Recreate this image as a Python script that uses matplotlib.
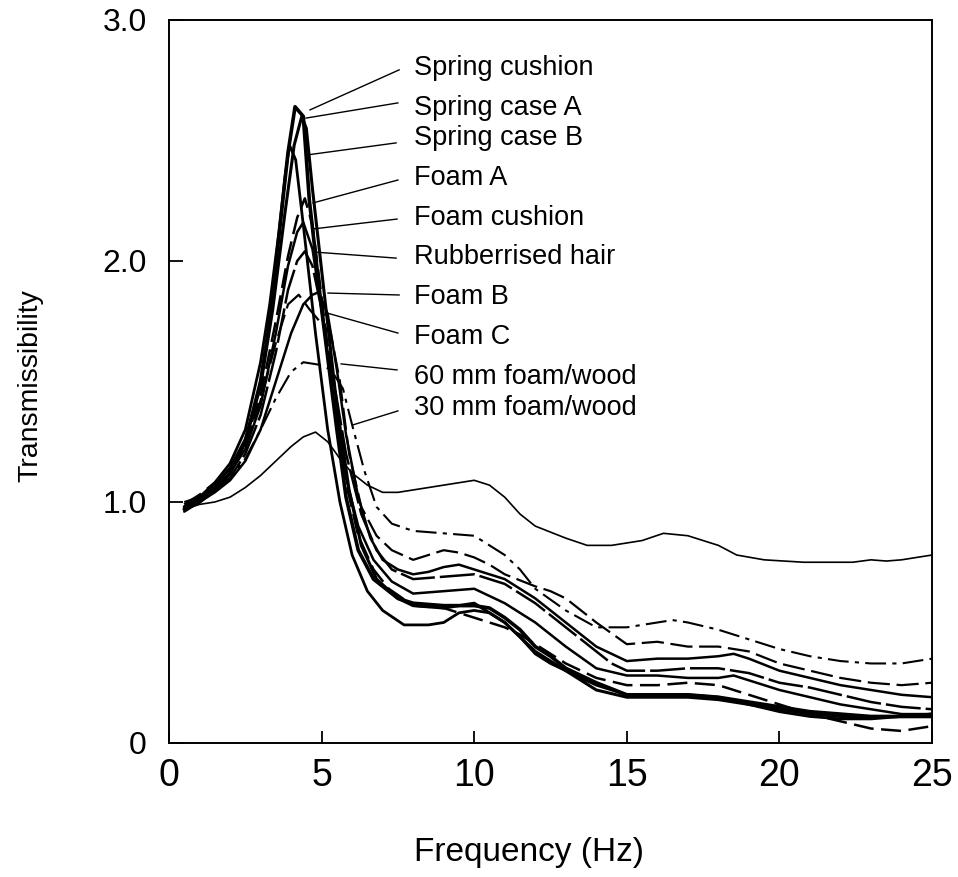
import matplotlib
matplotlib.use("Agg")
import matplotlib.pyplot as plt

# frequency (Hz) / transmissibility
sc_x = [0.5,1,1.5,2,2.5,3,3.3,3.6,3.9,4.13,4.4,4.6,5.0,5.5,5.8,6.2,6.7,7.5,8,9,10,10.5,11,11.5,12,12.5,13,14,15,16,17,18,19,20,21,22,23,24,25]
sc_y = [0.97,1.0,1.05,1.12,1.25,1.5,1.75,2.1,2.45,2.64,2.6,2.25,1.8,1.3,1.02,0.8,0.68,0.6,0.58,0.57,0.57,0.56,0.52,0.47,0.4,0.36,0.31,0.25,0.2,0.2,0.2,0.19,0.17,0.15,0.13,0.12,0.11,0.11,0.11]

sca_x = [0.5,1,1.5,2,2.5,3,3.4,3.8,4.1,4.35,4.5,4.7,5.1,5.5,5.9,6.3,6.8,7.5,8,9,10,11,12,13,14,15,16,17,18,19,20,21,22,23,24,25]
sca_y = [0.98,1.02,1.07,1.14,1.26,1.48,1.8,2.2,2.48,2.6,2.55,2.3,1.85,1.4,1.05,0.82,0.68,0.6,0.57,0.56,0.58,0.5,0.38,0.3,0.22,0.19,0.19,0.19,0.18,0.16,0.14,0.12,0.11,0.11,0.11,0.12]

scb_x = [0.5,1,1.5,2,2.5,3,3.3,3.6,3.8,3.95,4.15,4.4,4.8,5.2,5.6,6,6.5,7,7.7,8.5,9,9.5,10,10.5,11,11.5,12,12.5,13,14,15,16,17,18,19,20,21,22,23,24,25]
scb_y = [0.97,1.02,1.08,1.16,1.3,1.58,1.82,2.12,2.35,2.48,2.42,2.15,1.7,1.3,1.0,0.78,0.63,0.55,0.49,0.49,0.5,0.54,0.55,0.54,0.5,0.44,0.37,0.33,0.3,0.24,0.2,0.2,0.2,0.19,0.16,0.13,0.11,0.1,0.1,0.11,0.12]

fa_x = [0.5,1,1.5,2,2.5,3,3.5,3.9,4.2,4.45,4.7,5.0,5.4,5.8,6.2,6.7,7.2,8,9,10,11,11.5,12.5,13,14,15,16,17,18,19,20,21,22,23,24,25]
fa_y = [0.99,1.03,1.08,1.14,1.25,1.44,1.75,2.02,2.18,2.26,2.15,1.85,1.42,1.08,0.86,0.72,0.64,0.57,0.56,0.52,0.48,0.45,0.37,0.33,0.27,0.24,0.24,0.25,0.24,0.2,0.16,0.12,0.09,0.06,0.05,0.07]

fcu_x = [0.5,1,1.5,2,2.5,3,3.5,3.9,4.2,4.4,4.7,5.0,5.4,5.8,6.2,6.7,7.3,8,9,10,11,12,13,14,15,16,17,18,18.5,20,21,22,23,24,25]
fcu_y = [0.98,1.02,1.06,1.12,1.22,1.4,1.7,1.98,2.12,2.16,2.05,1.8,1.42,1.1,0.9,0.76,0.67,0.62,0.63,0.64,0.58,0.5,0.4,0.31,0.28,0.28,0.27,0.27,0.28,0.22,0.19,0.16,0.14,0.12,0.12]

rh_x = [0.5,1,1.5,2,2.5,3,3.5,3.9,4.2,4.45,4.7,5.0,5.4,5.8,6.3,6.8,7.3,8,9,10,11,11.5,12,13,14,14.5,15,16,17,18,19,20,21,22,23,24,25]
rh_y = [0.97,1.01,1.05,1.1,1.2,1.36,1.62,1.88,2.0,2.04,1.98,1.8,1.5,1.2,0.95,0.8,0.72,0.68,0.69,0.7,0.66,0.62,0.58,0.48,0.38,0.33,0.3,0.3,0.31,0.31,0.29,0.25,0.23,0.2,0.17,0.15,0.14]

fb_x = [0.5,1,1.5,2,2.5,3,3.5,4,4.4,4.7,4.9,5.2,5.5,5.8,6.2,6.6,7.0,7.5,8,8.5,9,9.5,10,10.5,11,12,13,13.5,14,15,16,17,18,18.5,19,20,21,22,23,24,25]
fb_y = [0.96,1.0,1.04,1.09,1.17,1.3,1.5,1.7,1.82,1.86,1.87,1.78,1.55,1.28,1.02,0.85,0.76,0.72,0.7,0.71,0.73,0.74,0.72,0.7,0.68,0.6,0.5,0.45,0.4,0.34,0.35,0.35,0.36,0.37,0.35,0.3,0.27,0.24,0.22,0.2,0.19]

fc_x = [0.5,1,1.5,2,2.5,3,3.5,3.9,4.25,4.6,5.0,5.3,5.6,5.9,6.3,6.8,7.3,8,8.5,9,9.5,10,10.5,11,12,12.5,13,14,15,16,17,18,19,20,21,22,23,24,25]
fc_y = [0.98,1.02,1.07,1.13,1.24,1.42,1.66,1.82,1.86,1.8,1.74,1.7,1.5,1.2,0.98,0.86,0.8,0.76,0.78,0.8,0.79,0.77,0.74,0.7,0.65,0.63,0.6,0.5,0.41,0.42,0.4,0.4,0.38,0.33,0.3,0.27,0.25,0.24,0.25]

f60_x = [0.5,1,1.5,2,2.5,3,3.5,4,4.4,4.9,5.3,5.7,6.0,6.4,6.8,7.3,8,9,10,10.5,11,11.5,12,13,14,15,16,16.5,17,18,19,20,21,22,23,24,25]
f60_y = [1.0,1.02,1.06,1.1,1.18,1.3,1.43,1.54,1.58,1.57,1.55,1.47,1.32,1.13,0.98,0.91,0.88,0.87,0.86,0.82,0.78,0.72,0.64,0.55,0.48,0.48,0.5,0.51,0.5,0.47,0.43,0.39,0.36,0.34,0.33,0.33,0.35]

f30_x = [0.5,1,1.5,2,2.5,3,3.5,4,4.4,4.8,5.2,5.6,6.0,6.5,7,7.5,8,8.5,9,9.5,10,10.5,11,11.5,12,13,13.7,14.5,15.5,16.2,17,18,18.6,19.5,20.8,21.5,22.4,23,23.5,24,25]
f30_y = [0.97,0.99,1.0,1.02,1.06,1.11,1.17,1.23,1.27,1.29,1.25,1.18,1.12,1.07,1.04,1.04,1.05,1.06,1.07,1.08,1.09,1.07,1.02,0.95,0.9,0.85,0.82,0.82,0.84,0.87,0.86,0.82,0.78,0.76,0.75,0.75,0.75,0.76,0.755,0.76,0.78]

labels = ["Spring cushion", "Spring case A", "Spring case B", "Foam A", "Foam cushion",
          "Rubberrised hair", "Foam B", "Foam C", "60 mm foam/wood", "30 mm foam/wood"]
label_y = [2.80, 2.635, 2.51, 2.344, 2.178, 2.017, 1.851, 1.685, 1.519, 1.39]
# leader lines: (start near text) -> (point on curve)
lead_from = [(7.54, 2.793), (7.50, 2.656), (7.44, 2.49), (7.50, 2.336), (7.47, 2.174),
             (7.44, 2.012), (7.54, 1.859), (7.50, 1.701), (7.47, 1.548), (7.50, 1.378)]
lead_to = [(4.62, 2.627), (4.49, 2.593), (4.52, 2.44), (4.72, 2.241), (4.72, 2.133),
           (4.78, 2.037), (5.21, 1.867), (5.18, 1.784), (5.64, 1.573), (6.03, 1.32)]

series = [
    (sc_x, sc_y, dict(lw=2.6, ls="-")),
    (sca_x, sca_y, dict(lw=2.2, ls="-")),
    (scb_x, scb_y, dict(lw=2.0, ls="-")),
    (fa_x, fa_y, dict(lw=1.8, ls=(0, (8, 3)))),
    (fcu_x, fcu_y, dict(lw=1.8, ls="-")),
    (rh_x, rh_y, dict(lw=1.8, ls=(0, (14, 2)))),
    (fb_x, fb_y, dict(lw=1.8, ls="-")),
    (fc_x, fc_y, dict(lw=1.6, ls=(0, (10, 3)))),
    (f60_x, f60_y, dict(lw=1.5, ls=(0, (10, 3, 2, 3)))),
    (f30_x, f30_y, dict(lw=1.2, ls="-")),
]

plt.rcParams["font.family"] = "Liberation Sans"

fig = plt.figure(figsize=(9.58, 8.77), dpi=100)
ax = fig.add_axes([0.1764, 0.1528, 0.7965, 0.8244])

for x, y, st in series:
    ax.plot(x, y, color="black", solid_capstyle="round", **st)

for lab, ly, p0, p1 in zip(labels, label_y, lead_from, lead_to):
    ax.plot([p0[0], p1[0]], [p0[1], p1[1]], color="black", lw=1.0)
    ax.text(8.03, ly, lab, fontsize=19.5, ha="left", va="center")

ax.set_xlim(0, 25)
ax.set_ylim(0, 3.0)
ax.set_xticks([0, 5, 10, 15, 20, 25])
ax.set_xticklabels(["0", "5", "10", "15", "20", "25"], fontsize=27)
ax.set_yticks([0, 1.0, 2.0, 3.0])
ax.set_yticklabels(["0", "1.0", "2.0", "3.0"], fontsize=23)
ax.tick_params(axis="x", direction="in", length=9, width=1.3, pad=11)
ax.tick_params(axis="y", direction="in", length=10, width=1.3, pad=16)
for s in ax.spines.values():
    s.set_linewidth(1.4)

ax.set_xlabel("Frequency (Hz)", fontsize=24)
ax.set_ylabel("Transmissibility", fontsize=20.5)
ax.xaxis.set_label_coords(0.472, -0.13)
ax.yaxis.set_label_coords(-0.165, 0.495)

fig.savefig("out.png", dpi=100)
